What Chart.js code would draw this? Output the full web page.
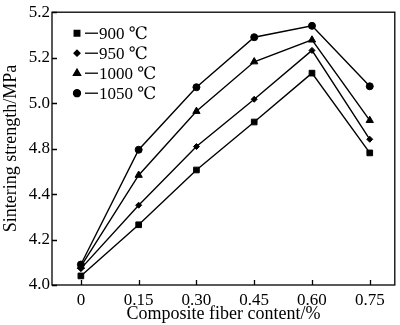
<!DOCTYPE html>
<html>
<head>
<meta charset="utf-8">
<script src="https://cdn.jsdelivr.net/npm/chart.js@4.4.1/dist/chart.umd.min.js"></script>
<style>
  html, body { margin: 0; padding: 0; background: #fff; }
  #wrap { width: 400px; height: 325px; }
</style>
</head>
<body>
<div id="wrap"><canvas id="strengthChart"></canvas></div>
<script>
// fiber content (%) and sintering strength per temperature
const fiberContent = [0, 0.15, 0.30, 0.45, 0.60, 0.75];
const xTickLabels = ['0', '0.15', '0.30', '0.45', '0.60', '0.75'];
const yTickValues = [4.0, 4.2, 4.4, 4.6, 4.8, 5.0, 5.2];
const yTickLabels = ['4.0', '4.2', '4.4', '4.8', '5.0', '5.2', '5.2']; // as printed in the figure
const seriesNames = ['900 \u2103', '950 \u2103', '1000 \u2103', '1050 \u2103'];
const s900 = [4.04, 4.265, 4.506, 4.717, 4.932, 4.581];
const s950 = [4.072, 4.351, 4.609, 4.817, 5.032, 4.641];
const s1000 = [4.082, 4.483, 4.764, 4.982, 5.078, 4.724];
const s1050 = [4.09, 4.595, 4.87, 5.09, 5.14, 4.874];
const markers = ['rect', 'rectRot', 'triangle', 'circle'];
const markerSizes = [4, 3, 4.2, 3.5];

const serif = "'Liberation Serif', 'DejaVu Serif', serif";

function pts(vals) {
  return vals.map((v, i) => ({ x: fiberContent[i], y: v }));
}

// frame + inward tick marks + legend in the plot corner
const framePlugin = {
  id: 'frame',
  afterDraw(chart) {
    const { ctx, chartArea: a, scales } = chart;
    ctx.save();
    ctx.strokeStyle = '#000';
    ctx.lineWidth = 1.3;
    ctx.strokeRect(a.left, a.top, a.right - a.left, a.bottom - a.top);
    ctx.beginPath();
    fiberContent.forEach(v => {
      const x = Math.round(scales.x.getPixelForValue(v)) + 0.5;
      ctx.moveTo(x, a.bottom);
      ctx.lineTo(x, a.bottom - 5);
    });
    yTickValues.forEach(v => {
      const y = Math.round(scales.y.getPixelForValue(v)) + 0.5;
      ctx.moveTo(a.left, y);
      ctx.lineTo(a.left + 5, y);
    });
    ctx.stroke();

    // legend
    ctx.font = '17px ' + serif;
    ctx.textBaseline = 'middle';
    ctx.fillStyle = '#000';
    chart.data.datasets.forEach((ds, i) => {
      const y = a.top + 21 + i * 20;
      const mx = a.left + 25;
      Chart.helpers.drawPoint(ctx, {
        pointStyle: markers[i], radius: markerSizes[i], rotation: 0, borderWidth: 1
      }, mx, y);
      ctx.fill();
      ctx.beginPath();
      ctx.lineWidth = 1.3;
      ctx.moveTo(mx + 8, y);
      ctx.lineTo(mx + 21, y);
      ctx.stroke();
      ctx.fillText(ds.label, mx + 22, y + 1);
    });
    ctx.restore();
  }
};

const allSeries = [s900, s950, s1000, s1050];
const ctx = document.getElementById('strengthChart').getContext('2d');
const strengthChart = new Chart(ctx, {
  type: 'line',
  data: {
    datasets: allSeries.map((s, i) => ({
      label: seriesNames[i],
      data: pts(s),
      borderColor: '#000',
      backgroundColor: '#000',
      borderWidth: 1.4,
      pointStyle: markers[i],
      pointRadius: markerSizes[i],
      pointBorderWidth: 1,
      tension: 0
    }))
  },
  options: {
    responsive: true,
    maintainAspectRatio: false,
    animation: false,
    layout: { padding: { left: 0, top: 7, right: 4, bottom: 0 } },
    plugins: {
      legend: { display: false },
      tooltip: { enabled: false }
    },
    scales: {
      x: {
        type: 'linear',
        min: -0.075,
        max: 0.815,
        afterBuildTicks: scale => { scale.ticks = fiberContent.map(v => ({ value: v })); },
        afterFit: scale => { scale.height = 40; },
        grid: { display: false, drawTicks: false },
        border: { display: false },
        ticks: {
          color: '#000',
          font: { family: serif, size: 17 },
          padding: 5,
          maxRotation: 0,
          callback: (v, i) => xTickLabels[i]
        },
        title: {
          display: true,
          text: 'Composite fiber content/%',
          color: '#000',
          font: { family: serif, size: 18 },
          padding: { top: 0, bottom: 0 }
        }
      },
      y: {
        min: 4.0,
        max: 5.2,
        afterBuildTicks: scale => { scale.ticks = yTickValues.map(v => ({ value: v })); },
        afterFit: scale => { scale.width = 52; },
        grid: { display: false, drawTicks: false },
        border: { display: false },
        ticks: {
          color: '#000',
          font: { family: serif, size: 17 },
          padding: 2,
          callback: (v, i) => yTickLabels[i]
        },
        title: {
          display: true,
          text: 'Sintering strength/MPa',
          color: '#000',
          font: { family: serif, size: 18 },
          padding: { top: 0, bottom: 0 }
        }
      }
    }
  },
  plugins: [framePlugin]
});
</script>
</body>
</html>
